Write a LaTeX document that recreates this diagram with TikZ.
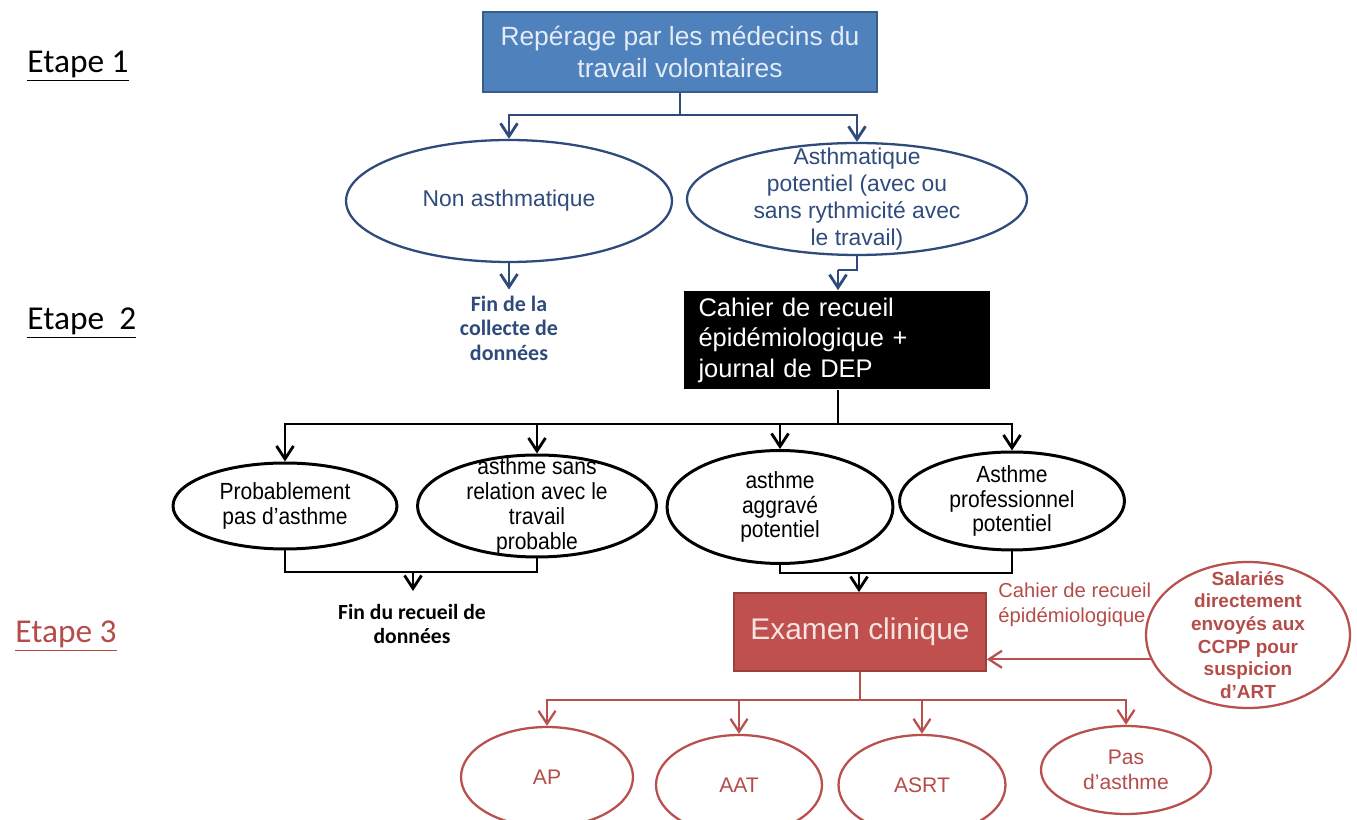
\documentclass[tikz,border=0pt]{standalone}
\usepackage{fontspec}
\setmainfont{Liberation Sans}
\newfontfamily\calibri{Carlito}
\newfontfamily\narrowsans[FakeStretch=0.9]{Liberation Sans}
\usetikzlibrary{arrows.meta,shapes.geometric}
\definecolor{navy}{HTML}{2F4B7C}
\definecolor{bluefill}{HTML}{4F81BD}
\definecolor{blueline}{HTML}{385D8A}
\definecolor{bluetext}{HTML}{E4ECF6}
\definecolor{redfill}{HTML}{C0504D}
\definecolor{redline}{HTML}{B9504E}
\definecolor{redtext}{HTML}{F6E4E3}
\definecolor{redink}{HTML}{B44C4A}
\tikzstyle{stage}=[anchor=base west, inner sep=0pt, font=\calibri\fontsize{19}{22}\selectfont]
\tikzstyle{bluebox}=[rectangle, draw=blueline, fill=bluefill, line width=1.2pt, text=bluetext, align=center, font=\fontsize{15}{18}\selectfont]
\tikzstyle{blackbox}=[rectangle, fill=black, text=white, align=left, inner xsep=0.3cm, font=\fontsize{14.5}{17.4}\selectfont]
\tikzstyle{redbox}=[rectangle, draw=redfill!80!black, fill=redfill, line width=1pt, text=redtext, font=\fontsize{17}{20}\selectfont]
\tikzstyle{blueoval}=[ellipse, draw=navy, line width=1.3pt, text=navy, inner sep=-2cm, align=center, font=\fontsize{13}{15.3}\selectfont]
\tikzstyle{oval}=[ellipse, draw=black, line width=1.7pt, inner sep=-2cm, align=center, font=\narrowsans\fontsize{13.3}{14.2}\selectfont]
\tikzstyle{redoval}=[ellipse, draw=redline, line width=1.3pt, text=redink, inner sep=-2cm, align=center, font=\fontsize{12}{14.2}\selectfont]
\tikzstyle{navyline}=[draw=navy, line width=1.6pt, >={Straight Barb[length=2.6mm,width=3.4mm]}]
\tikzstyle{blackline}=[draw=black, line width=1.6pt, >={Straight Barb[length=2.6mm,width=3.4mm]}]
\tikzstyle{redarrow}=[draw=redline, line width=1.3pt, >={Straight Barb[length=2.6mm,width=3.4mm]}]

\begin{document}
\begin{tikzpicture}[x=0.02cm, y=-0.02cm]
    \useasboundingbox (0,0) rectangle (1357,820);
    \clip (0,0) rectangle (1357,820);
    % etapes
    \node (etape1) at (27,73) [stage] {\underline{Etape 1}};
    \node (etape2) at (27,330) [stage] {\underline{Etape\ \ 2}};
    \node (etape3) at (15,643) [stage, text=redink] {\underline{Etape 3}};
    % etape 1
    \node (reperage) at (680,52) [bluebox, minimum width=7.88cm, minimum height=1.6cm] {Repérage par les médecins du\\travail volontaires};
    \node (nonasth) at (509,201) [blueoval, minimum width=6.52cm, minimum height=2.44cm] {Non asthmatique};
    \node (potentiel) at (857,199) [blueoval, minimum width=6.8cm, minimum height=2.24cm] {Asthmatique\\potentiel (avec ou\\sans rythmicité avec\\le travail)};
    \node (fincollecte) at (509,328) [text=navy, align=center, font=\calibri\bfseries\fontsize{12.5}{13.9}\selectfont] {Fin de la\\collecte de\\données};
    % etape 2
    \node (cahier) at (837,340) [blackbox, text width=5.54cm, minimum height=1.98cm] {Cahier de recueil\\épidémiologique +\\journal de DEP};
    \node (probable) at (285,506) [oval, minimum width=4.48cm, minimum height=1.72cm] {Probablement\\pas d’asthme};
    \node (sansrel) at (537,506) [oval, minimum width=4.78cm, minimum height=2.04cm] {asthme sans\\relation avec le\\travail\\probable};
    \node (aggrave) at (780,507) [oval, minimum width=4.52cm, minimum height=2.26cm] {asthme\\aggravé\\potentiel};
    \node (profess) at (1012,501) [oval, minimum width=4.5cm, minimum height=1.96cm] {Asthme\\professionnel\\potentiel};
    \node (finrecueil) at (412,624) [align=center, font=\calibri\bfseries\fontsize{12.3}{13.9}\selectfont] {Fin du recueil de\\données};
    % etape 3
    \node (examen) at (860,632) [redbox, minimum width=5.04cm, minimum height=1.56cm] {Examen clinique};
    \node (salaries) at (1248,635) [redoval, minimum width=4.08cm, minimum height=2.92cm, font=\bfseries\fontsize{10.8}{12.9}\selectfont] {Salariés\\directement\\envoyés aux\\CCPP pour\\suspicion\\d’ART};
    \node (cahierrouge) at (998,583) [anchor=north west, inner sep=0pt, align=left, text=redink, font=\fontsize{11.5}{14}\selectfont] {Cahier de recueil\\épidémiologique};
    \node (ap) at (547,777) [redoval, minimum width=3.44cm, minimum height=2cm] {AP};
    \node (aat) at (739,785) [redoval, minimum width=3.32cm, minimum height=2cm] {AAT};
    \node (asrt) at (922,785) [redoval, minimum width=3.34cm, minimum height=2cm] {ASRT};
    \node (pasasth) at (1126,770) [redoval, minimum width=3.4cm, minimum height=1.76cm] {Pas\\d’asthme};
    % connecteurs
    \coordinate (b1) at (680,115);
    \coordinate (b2) at (838,270);
    \coordinate (b3) at (838,424);
    \coordinate (b4) at (413,572);
    \coordinate (b4end) at (413,591);
    \coordinate (b5) at (859,573);
    \coordinate (b6) at (860,700);
    \draw [navyline] (reperage) -- (b1);
    \draw [navyline, ->] (b1) -| (nonasth.north);
    \draw [navyline, ->] (b1) -| (potentiel.north);
    \draw [navyline, ->] (nonasth) -- (fincollecte);
    \draw [navyline] (potentiel.south) |- (b2);
    \draw [navyline, ->] (b2) -- (b2 |- cahier.north);
    \draw [blackline] (cahier.south -| b3) -- (b3);
    \foreach \n in {probable, sansrel, aggrave, profess}
        \draw [blackline, ->] (b3) -| (\n.north);
    \draw [blackline] (probable.south) |- (b4) -| (sansrel.south);
    \draw [blackline, ->] (b4) -- (b4end);
    \draw [blackline] (aggrave.south) |- (b5) -| (profess.south);
    \draw [blackline, ->] (b5) -- (b5 |- examen.north);
    \draw [redarrow] (examen) -- (b6);
    \foreach \n in {ap, aat, asrt, pasasth}
        \draw [redarrow, ->] (b6) -| (\n.north);
    \draw [redarrow, ->] (salaries.194) -- (salaries.194 -| examen.east);
\end{tikzpicture}
\end{document}
